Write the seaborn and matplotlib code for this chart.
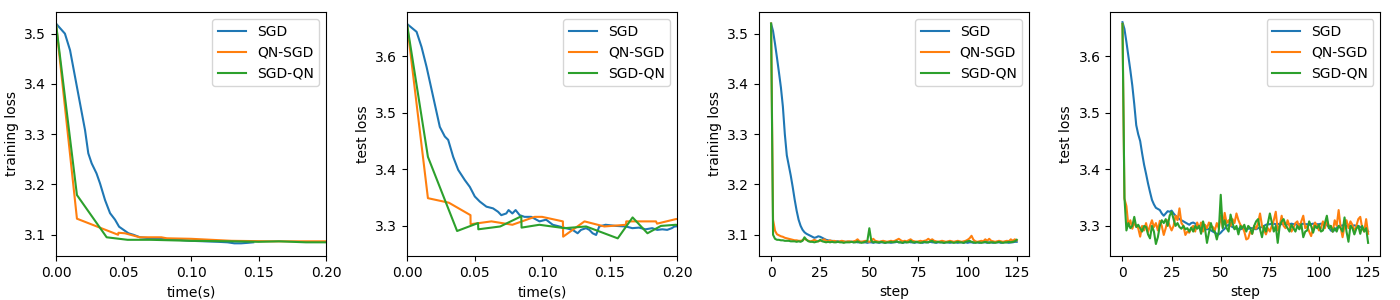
import numpy as np
import pandas as pd
import matplotlib
matplotlib.use("Agg")
import matplotlib.pyplot as plt
import seaborn as sns

# Series names / colours
methods = ["SGD", "QN-SGD", "SGD-QN"]
colors = ["#1f77b4", "#ff7f0e", "#2ca02c"]

# ---- training loss vs time(s) ----
sgd_train_t = [0.0, 0.0066, 0.0104, 0.0141, 0.0178, 0.0215, 0.0239, 0.0264, 0.030, 0.0326,
               0.0363, 0.040, 0.0437, 0.0467, 0.0499, 0.0536, 0.0573, 0.0622, 0.070, 0.080,
               0.090, 0.100, 0.110, 0.120, 0.127, 0.132, 0.137, 0.142, 0.146]
sgd_train_v = [3.520, 3.500, 3.467, 3.414, 3.361, 3.308, 3.262, 3.242, 3.222, 3.202,
               3.169, 3.143, 3.130, 3.116, 3.110, 3.103, 3.100, 3.095, 3.093, 3.092,
               3.090, 3.088, 3.087, 3.086, 3.085, 3.083, 3.083, 3.084, 3.085]
qnsgd_train_t = [0.0, 0.0155, 0.046, 0.0462, 0.051, 0.062, 0.074, 0.078, 0.082, 0.100,
                 0.115, 0.130, 0.160, 0.200, 0.215]
qnsgd_train_v = [3.520, 3.132, 3.100, 3.104, 3.103, 3.095, 3.095, 3.095, 3.093, 3.092,
                 3.090, 3.088, 3.087, 3.087, 3.087]
sgdqn_train_t = [0.0, 0.0155, 0.0375, 0.053, 0.070, 0.100, 0.130, 0.150, 0.165, 0.185,
                 0.200, 0.215]
sgdqn_train_v = [3.520, 3.179, 3.095, 3.090, 3.090, 3.088, 3.087, 3.086, 3.087, 3.085,
                 3.085, 3.085]

# ---- test loss vs time(s) ----
sgd_test_t = [0.0, 0.0071, 0.0108, 0.0145, 0.0194, 0.0243, 0.028, 0.0305, 0.0342, 0.0379,
              0.0428, 0.0465, 0.0502, 0.0539, 0.0588, 0.0637, 0.0674, 0.0698, 0.0735, 0.0752,
              0.078, 0.0804, 0.0834, 0.087, 0.092, 0.0981, 0.103, 0.1079, 0.1128, 0.1177,
              0.1226, 0.1263, 0.1288, 0.1325, 0.135, 0.1374, 0.140, 0.1423, 0.147, 0.1546,
              0.162, 0.1668, 0.1717, 0.1766, 0.1815, 0.1852, 0.189, 0.1926, 0.196, 0.198,
              0.205]
sgd_test_v = [3.657, 3.643, 3.616, 3.581, 3.528, 3.475, 3.458, 3.452, 3.422, 3.399,
              3.381, 3.369, 3.352, 3.343, 3.334, 3.331, 3.325, 3.319, 3.322, 3.328,
              3.322, 3.328, 3.319, 3.316, 3.316, 3.308, 3.311, 3.302, 3.299, 3.296,
              3.293, 3.287, 3.293, 3.296, 3.293, 3.287, 3.284, 3.299, 3.302, 3.300,
              3.299, 3.296, 3.297, 3.294, 3.296, 3.293, 3.294, 3.293, 3.296, 3.299,
              3.300]
qnsgd_test_t = [0.0, 0.0155, 0.031, 0.047, 0.0471, 0.0625, 0.078, 0.0945, 0.100, 0.1154,
                0.1156, 0.1314, 0.1461, 0.1621, 0.1623, 0.1843, 0.1851, 0.199, 0.210]
qnsgd_test_v = [3.657, 3.349, 3.341, 3.319, 3.303, 3.308, 3.302, 3.316, 3.316, 3.308,
                3.281, 3.308, 3.299, 3.302, 3.308, 3.308, 3.304, 3.312, 3.314]
sgdqn_test_t = [0.0, 0.0155, 0.0371, 0.0526, 0.0528, 0.069, 0.0846, 0.0848, 0.098, 0.1166,
                0.1326, 0.156, 0.167, 0.178, 0.188, 0.199, 0.210]
sgdqn_test_v = [3.657, 3.422, 3.291, 3.305, 3.294, 3.299, 3.317, 3.297, 3.302, 3.296,
                3.299, 3.278, 3.315, 3.287, 3.300, 3.302, 3.298]

# ---- per-step losses (steps 0..125) ----
steps = list(range(126))

sgd_train_step = [
    3.520, 3.505, 3.480, 3.452, 3.423, 3.393, 3.355, 3.300, 3.258, 3.238,
    3.218, 3.195, 3.170, 3.148, 3.130, 3.118, 3.110, 3.105, 3.102, 3.100,
    3.098, 3.096, 3.094, 3.095, 3.097, 3.096, 3.094, 3.092, 3.090, 3.089,
    3.088, 3.088, 3.087, 3.087, 3.087, 3.086, 3.087, 3.086, 3.086, 3.086,
    3.086, 3.086, 3.085, 3.086, 3.085, 3.085, 3.086, 3.085, 3.085, 3.084,
    3.085, 3.085, 3.084, 3.085, 3.085, 3.084, 3.085, 3.085, 3.084, 3.085,
    3.085, 3.084, 3.085, 3.085, 3.086, 3.085, 3.085, 3.084, 3.085, 3.085,
    3.086, 3.085, 3.085, 3.084, 3.085, 3.085, 3.085, 3.084, 3.085, 3.085,
    3.085, 3.086, 3.085, 3.085, 3.084, 3.085, 3.085, 3.085, 3.084, 3.085,
    3.085, 3.084, 3.085, 3.085, 3.085, 3.084, 3.085, 3.085, 3.084, 3.085,
    3.084, 3.085, 3.085, 3.084, 3.085, 3.085, 3.084, 3.085, 3.085, 3.085,
    3.084, 3.085, 3.085, 3.084, 3.085, 3.085, 3.085, 3.084, 3.085, 3.085,
    3.085, 3.084, 3.085, 3.085, 3.086, 3.086]
qnsgd_train_step = [
    3.520, 3.130, 3.108, 3.101, 3.099, 3.097, 3.096, 3.094, 3.093, 3.092,
    3.091, 3.090, 3.089, 3.089, 3.088, 3.088, 3.089, 3.092, 3.090, 3.088,
    3.087, 3.088, 3.090, 3.088, 3.087, 3.088, 3.089, 3.091, 3.088, 3.087,
    3.089, 3.087, 3.088, 3.087, 3.086, 3.087, 3.088, 3.087, 3.086, 3.087,
    3.087, 3.086, 3.087, 3.088, 3.091, 3.087, 3.086, 3.087, 3.088, 3.087,
    3.086, 3.088, 3.092, 3.088, 3.087, 3.086, 3.087, 3.088, 3.087, 3.086,
    3.087, 3.088, 3.087, 3.088, 3.090, 3.092, 3.089, 3.087, 3.088, 3.087,
    3.089, 3.091, 3.088, 3.087, 3.086, 3.087, 3.088, 3.087, 3.088, 3.089,
    3.092, 3.089, 3.091, 3.088, 3.087, 3.086, 3.087, 3.088, 3.087, 3.086,
    3.087, 3.088, 3.087, 3.086, 3.087, 3.088, 3.087, 3.086, 3.087, 3.088,
    3.090, 3.093, 3.098, 3.090, 3.087, 3.086, 3.087, 3.088, 3.087, 3.091,
    3.088, 3.092, 3.088, 3.087, 3.086, 3.087, 3.088, 3.087, 3.086, 3.087,
    3.088, 3.087, 3.091, 3.088, 3.091, 3.089]
sgdqn_train_step = [
    3.520, 3.100, 3.092, 3.090, 3.090, 3.089, 3.089, 3.088, 3.088, 3.088,
    3.087, 3.087, 3.087, 3.086, 3.087, 3.086, 3.088, 3.095, 3.090, 3.087,
    3.086, 3.086, 3.085, 3.086, 3.087, 3.090, 3.087, 3.086, 3.085, 3.086,
    3.085, 3.086, 3.085, 3.085, 3.086, 3.085, 3.085, 3.084, 3.085, 3.085,
    3.085, 3.086, 3.085, 3.085, 3.087, 3.085, 3.084, 3.085, 3.086, 3.088,
    3.113, 3.088, 3.085, 3.086, 3.085, 3.085, 3.086, 3.085, 3.084, 3.085,
    3.085, 3.086, 3.085, 3.086, 3.087, 3.085, 3.085, 3.084, 3.086, 3.085,
    3.085, 3.088, 3.085, 3.085, 3.086, 3.085, 3.084, 3.085, 3.086, 3.085,
    3.085, 3.087, 3.088, 3.085, 3.085, 3.086, 3.085, 3.085, 3.084, 3.085,
    3.085, 3.086, 3.085, 3.084, 3.085, 3.086, 3.085, 3.085, 3.084, 3.086,
    3.087, 3.088, 3.086, 3.085, 3.084, 3.085, 3.085, 3.084, 3.085, 3.086,
    3.085, 3.084, 3.085, 3.085, 3.084, 3.085, 3.086, 3.085, 3.084, 3.085,
    3.085, 3.086, 3.085, 3.086, 3.087, 3.090]

sgd_test_step = [
    3.660, 3.648, 3.625, 3.600, 3.575, 3.548, 3.515, 3.478, 3.462, 3.450,
    3.428, 3.408, 3.392, 3.375, 3.360, 3.346, 3.338, 3.332, 3.330, 3.328,
    3.322, 3.318, 3.322, 3.326, 3.325, 3.327, 3.322, 3.318, 3.315, 3.312,
    3.310, 3.308, 3.306, 3.304, 3.302, 3.305, 3.306, 3.304, 3.300, 3.298,
    3.296, 3.295, 3.294, 3.294, 3.295, 3.292, 3.290, 3.288, 3.286, 3.285,
    3.288, 3.292, 3.295, 3.300, 3.302, 3.300, 3.298, 3.296, 3.295, 3.295,
    3.294, 3.295, 3.295, 3.294, 3.295, 3.296, 3.296, 3.295, 3.294, 3.296,
    3.297, 3.298, 3.300, 3.302, 3.303, 3.303, 3.304, 3.304, 3.303, 3.303,
    3.304, 3.303, 3.303, 3.304, 3.303, 3.303, 3.304, 3.303, 3.303, 3.302,
    3.303, 3.303, 3.304, 3.303, 3.303, 3.302, 3.303, 3.304, 3.303, 3.303,
    3.303, 3.304, 3.303, 3.303, 3.302, 3.298, 3.292, 3.290, 3.293, 3.296,
    3.300, 3.300, 3.301, 3.300, 3.300, 3.301, 3.300, 3.300, 3.301, 3.300,
    3.300, 3.298, 3.296, 3.294, 3.296, 3.290]
qnsgd_test_step = [
    3.657, 3.348, 3.335, 3.300, 3.310, 3.295, 3.305, 3.300, 3.296, 3.281,
    3.300, 3.292, 3.305, 3.289, 3.300, 3.310, 3.298, 3.305, 3.292, 3.309,
    3.300, 3.284, 3.296, 3.310, 3.300, 3.292, 3.300, 3.318, 3.310, 3.331,
    3.305, 3.300, 3.284, 3.290, 3.288, 3.296, 3.300, 3.290, 3.306, 3.296,
    3.306, 3.290, 3.302, 3.296, 3.306, 3.300, 3.298, 3.292, 3.305, 3.296,
    3.318, 3.298, 3.323, 3.305, 3.310, 3.300, 3.312, 3.305, 3.322, 3.310,
    3.302, 3.298, 3.290, 3.276, 3.278, 3.290, 3.286, 3.300, 3.295, 3.305,
    3.322, 3.300, 3.293, 3.285, 3.296, 3.290, 3.300, 3.310, 3.325, 3.292,
    3.300, 3.318, 3.300, 3.296, 3.310, 3.300, 3.290, 3.296, 3.305, 3.308,
    3.295, 3.308, 3.318, 3.296, 3.300, 3.290, 3.282, 3.296, 3.306, 3.300,
    3.292, 3.296, 3.308, 3.296, 3.310, 3.300, 3.300, 3.290, 3.310, 3.300,
    3.328, 3.298, 3.280, 3.300, 3.310, 3.296, 3.308, 3.302, 3.290, 3.300,
    3.312, 3.316, 3.296, 3.290, 3.312, 3.286]
sgdqn_test_step = [
    3.657, 3.350, 3.292, 3.305, 3.296, 3.300, 3.316, 3.298, 3.302, 3.296,
    3.290, 3.300, 3.298, 3.285, 3.278, 3.300, 3.290, 3.268, 3.280, 3.300,
    3.310, 3.305, 3.312, 3.300, 3.318, 3.325, 3.312, 3.300, 3.305, 3.298,
    3.295, 3.300, 3.294, 3.296, 3.290, 3.297, 3.290, 3.300, 3.295, 3.300,
    3.286, 3.308, 3.295, 3.270, 3.288, 3.305, 3.292, 3.290, 3.276, 3.290,
    3.355, 3.296, 3.310, 3.296, 3.290, 3.320, 3.305, 3.294, 3.300, 3.285,
    3.300, 3.296, 3.302, 3.290, 3.300, 3.296, 3.286, 3.300, 3.308, 3.312,
    3.294, 3.280, 3.300, 3.290, 3.305, 3.322, 3.306, 3.290, 3.300, 3.270,
    3.300, 3.308, 3.312, 3.302, 3.296, 3.290, 3.302, 3.296, 3.290, 3.300,
    3.294, 3.303, 3.280, 3.290, 3.292, 3.308, 3.300, 3.288, 3.300, 3.296,
    3.302, 3.290, 3.292, 3.305, 3.318, 3.296, 3.300, 3.290, 3.296, 3.290,
    3.300, 3.296, 3.290, 3.315, 3.290, 3.272, 3.300, 3.296, 3.285, 3.295,
    3.300, 3.286, 3.300, 3.290, 3.296, 3.270]


def draw(ax, xs, ys, xlabel, ylabel):
    for x, y, name, c in zip(xs, ys, methods, colors):
        sns.lineplot(x=x, y=y, ax=ax, color=c, label=name, sort=False,
                     estimator=None, linewidth=1.5)
    ax.set_xlabel(xlabel)
    ax.set_ylabel(ylabel)
    ax.legend(loc="upper right")


plt.rcParams["font.family"] = ["DejaVu Sans"]
fig = plt.figure(figsize=(14, 3), dpi=100)
lefts = [0.040, 0.2907, 0.542, 0.793]
axes = [fig.add_axes([l, 0.147, 0.193, 0.813]) for l in lefts]

draw(axes[0], [sgd_train_t, qnsgd_train_t, sgdqn_train_t],
     [sgd_train_v, qnsgd_train_v, sgdqn_train_v], "time(s)", "training loss")
axes[0].set_xlim(0, 0.2)
axes[0].set_ylim(3.058, 3.543)

draw(axes[1], [sgd_test_t, qnsgd_test_t, sgdqn_test_t],
     [sgd_test_v, qnsgd_test_v, sgdqn_test_v], "time(s)", "test loss")
axes[1].set_xlim(0, 0.2)
axes[1].set_ylim(3.247, 3.678)

draw(axes[2], [steps] * 3, [sgd_train_step, qnsgd_train_step, sgdqn_train_step],
     "step", "training loss")
axes[2].set_ylim(3.058, 3.543)

draw(axes[3], [steps] * 3, [sgd_test_step, qnsgd_test_step, sgdqn_test_step],
     "step", "test loss")
axes[3].set_ylim(3.247, 3.678)

fig.savefig("out.png", dpi=100)
